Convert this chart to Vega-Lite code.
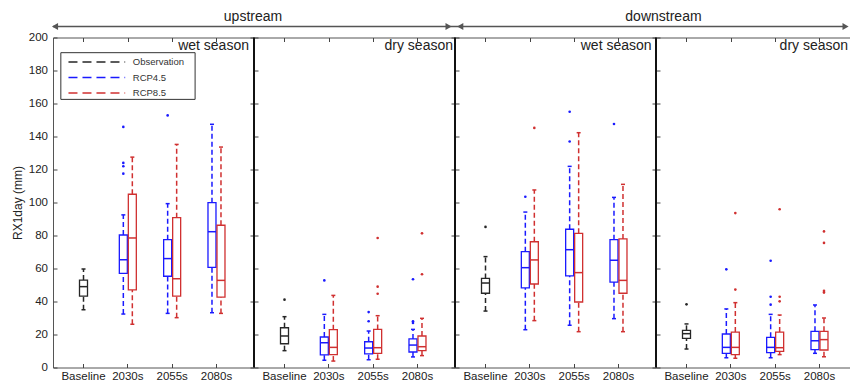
{
  "$schema": "https://vega.github.io/schema/vega-lite/v6.json",
  "padding": {"left": 10, "top": 8.5, "right": 0, "bottom": 0},
  "datasets": {
    "boxes": [
      {"region":"upstream","season":"wet season","period":"Baseline","scenario":"Observation","lo":35,"q1":43.3,"med":49,"q3":53,"hi":59.7},
      {"region":"upstream","season":"wet season","period":"2030s","scenario":"RCP4.5","lo":32.4,"q1":57,"med":65.3,"q3":80.3,"hi":92.5},
      {"region":"upstream","season":"wet season","period":"2030s","scenario":"RCP8.5","lo":26.2,"q1":47,"med":78.5,"q3":105,"hi":127.5},
      {"region":"upstream","season":"wet season","period":"2055s","scenario":"RCP4.5","lo":32.8,"q1":55.3,"med":66,"q3":77.5,"hi":99.3},
      {"region":"upstream","season":"wet season","period":"2055s","scenario":"RCP8.5","lo":30.2,"q1":43.3,"med":53.8,"q3":90.8,"hi":135.2},
      {"region":"upstream","season":"wet season","period":"2080s","scenario":"RCP4.5","lo":33.2,"q1":60.7,"med":82.3,"q3":99.9,"hi":147.4},
      {"region":"upstream","season":"wet season","period":"2080s","scenario":"RCP8.5","lo":32.8,"q1":42.7,"med":52.8,"q3":86.2,"hi":133.6},
      {"region":"upstream","season":"dry season","period":"Baseline","scenario":"Observation","lo":10.2,"q1":14.4,"med":19.1,"q3":24.1,"hi":30.8},
      {"region":"upstream","season":"dry season","period":"2030s","scenario":"RCP4.5","lo":4.4,"q1":7.6,"med":15,"q3":18.5,"hi":32.2},
      {"region":"upstream","season":"dry season","period":"2030s","scenario":"RCP8.5","lo":3.9,"q1":7.8,"med":12.2,"q3":22.9,"hi":43.7},
      {"region":"upstream","season":"dry season","period":"2055s","scenario":"RCP4.5","lo":4.7,"q1":8.2,"med":11.8,"q3":15.6,"hi":22.1},
      {"region":"upstream","season":"dry season","period":"2055s","scenario":"RCP8.5","lo":5,"q1":8.6,"med":12,"q3":23.1,"hi":31.4},
      {"region":"upstream","season":"dry season","period":"2080s","scenario":"RCP4.5","lo":6.4,"q1":9.4,"med":13.6,"q3":17.3,"hi":23.1},
      {"region":"upstream","season":"dry season","period":"2080s","scenario":"RCP8.5","lo":7.2,"q1":10.2,"med":12.6,"q3":19.1,"hi":29.8},
      {"region":"downstream","season":"wet season","period":"Baseline","scenario":"Observation","lo":34.2,"q1":45,"med":51.2,"q3":54,"hi":67.2},
      {"region":"downstream","season":"wet season","period":"2030s","scenario":"RCP4.5","lo":22.9,"q1":48.2,"med":60.5,"q3":70.2,"hi":94.2},
      {"region":"downstream","season":"wet season","period":"2030s","scenario":"RCP8.5","lo":28.4,"q1":50.6,"med":65.2,"q3":76.2,"hi":107.6},
      {"region":"downstream","season":"wet season","period":"2055s","scenario":"RCP4.5","lo":25.6,"q1":55.5,"med":71.4,"q3":83.8,"hi":121.9},
      {"region":"downstream","season":"wet season","period":"2055s","scenario":"RCP8.5","lo":21.7,"q1":39.7,"med":57.5,"q3":81.3,"hi":142.3},
      {"region":"downstream","season":"wet season","period":"2080s","scenario":"RCP4.5","lo":29.6,"q1":51.8,"med":65,"q3":77.5,"hi":103.1},
      {"region":"downstream","season":"wet season","period":"2080s","scenario":"RCP8.5","lo":21.7,"q1":45,"med":52.8,"q3":77.9,"hi":111},
      {"region":"downstream","season":"dry season","period":"Baseline","scenario":"Observation","lo":11.2,"q1":17.7,"med":20.5,"q3":22.5,"hi":26.4},
      {"region":"downstream","season":"dry season","period":"2030s","scenario":"RCP4.5","lo":5.9,"q1":8.6,"med":12.2,"q3":20.3,"hi":35.5},
      {"region":"downstream","season":"dry season","period":"2030s","scenario":"RCP8.5","lo":5.6,"q1":7.8,"med":12.2,"q3":21.5,"hi":39.3},
      {"region":"downstream","season":"dry season","period":"2055s","scenario":"RCP4.5","lo":5.9,"q1":9,"med":12.2,"q3":18.3,"hi":32.2},
      {"region":"downstream","season":"dry season","period":"2055s","scenario":"RCP8.5","lo":7.8,"q1":9.8,"med":12,"q3":21.5,"hi":31.8},
      {"region":"downstream","season":"dry season","period":"2080s","scenario":"RCP4.5","lo":8.6,"q1":10.8,"med":16.2,"q3":21.9,"hi":37.9},
      {"region":"downstream","season":"dry season","period":"2080s","scenario":"RCP8.5","lo":6.5,"q1":10.6,"med":16.9,"q3":21.9,"hi":30}
    ],
    "outliers": [
      {"region":"upstream","season":"wet season","period":"2030s","scenario":"RCP4.5","value":145.8},
      {"region":"upstream","season":"wet season","period":"2030s","scenario":"RCP4.5","value":124},
      {"region":"upstream","season":"wet season","period":"2030s","scenario":"RCP4.5","value":122},
      {"region":"upstream","season":"wet season","period":"2030s","scenario":"RCP4.5","value":117.5},
      {"region":"upstream","season":"wet season","period":"2055s","scenario":"RCP4.5","value":152.8},
      {"region":"upstream","season":"dry season","period":"Baseline","scenario":"Observation","value":41.1},
      {"region":"upstream","season":"dry season","period":"2030s","scenario":"RCP4.5","value":52.8},
      {"region":"upstream","season":"dry season","period":"2055s","scenario":"RCP4.5","value":33.6},
      {"region":"upstream","season":"dry season","period":"2055s","scenario":"RCP4.5","value":28},
      {"region":"upstream","season":"dry season","period":"2055s","scenario":"RCP8.5","value":78.5},
      {"region":"upstream","season":"dry season","period":"2055s","scenario":"RCP8.5","value":49},
      {"region":"upstream","season":"dry season","period":"2055s","scenario":"RCP8.5","value":44.7},
      {"region":"upstream","season":"dry season","period":"2080s","scenario":"RCP4.5","value":53.5},
      {"region":"upstream","season":"dry season","period":"2080s","scenario":"RCP4.5","value":28},
      {"region":"upstream","season":"dry season","period":"2080s","scenario":"RCP4.5","value":27},
      {"region":"upstream","season":"dry season","period":"2080s","scenario":"RCP8.5","value":81.3},
      {"region":"upstream","season":"dry season","period":"2080s","scenario":"RCP8.5","value":56.5},
      {"region":"downstream","season":"wet season","period":"Baseline","scenario":"Observation","value":85.2},
      {"region":"downstream","season":"wet season","period":"2030s","scenario":"RCP4.5","value":103.5},
      {"region":"downstream","season":"wet season","period":"2030s","scenario":"RCP8.5","value":145.2},
      {"region":"downstream","season":"wet season","period":"2055s","scenario":"RCP4.5","value":155},
      {"region":"downstream","season":"wet season","period":"2055s","scenario":"RCP4.5","value":137},
      {"region":"downstream","season":"wet season","period":"2080s","scenario":"RCP4.5","value":147.6},
      {"region":"downstream","season":"dry season","period":"Baseline","scenario":"Observation","value":38.3},
      {"region":"downstream","season":"dry season","period":"2030s","scenario":"RCP4.5","value":59.5},
      {"region":"downstream","season":"dry season","period":"2030s","scenario":"RCP8.5","value":93.6},
      {"region":"downstream","season":"dry season","period":"2030s","scenario":"RCP8.5","value":47.2},
      {"region":"downstream","season":"dry season","period":"2055s","scenario":"RCP4.5","value":64.7},
      {"region":"downstream","season":"dry season","period":"2055s","scenario":"RCP4.5","value":42.9},
      {"region":"downstream","season":"dry season","period":"2055s","scenario":"RCP4.5","value":38.1},
      {"region":"downstream","season":"dry season","period":"2055s","scenario":"RCP8.5","value":95.9},
      {"region":"downstream","season":"dry season","period":"2055s","scenario":"RCP8.5","value":42.9},
      {"region":"downstream","season":"dry season","period":"2055s","scenario":"RCP8.5","value":40.1},
      {"region":"downstream","season":"dry season","period":"2080s","scenario":"RCP8.5","value":82.5},
      {"region":"downstream","season":"dry season","period":"2080s","scenario":"RCP8.5","value":75.5},
      {"region":"downstream","season":"dry season","period":"2080s","scenario":"RCP8.5","value":46.4},
      {"region":"downstream","season":"dry season","period":"2080s","scenario":"RCP8.5","value":45.4}
    ],
    "legend": [
      {"series":"Observation"},
      {"series":"RCP4.5"},
      {"series":"RCP8.5"}
    ]
  },
  "hconcat": [
    {
      "width": 201, "height": 330,
      "layer": [
        {
          "data": {"name": "boxes"},
          "transform": [{"filter": "datum.region === 'upstream' && datum.season === 'wet season'"}],
          "encoding": {
            "x": {"field": "period", "type": "nominal", "scale": {"domain": ["Baseline","2030s","2055s","2080s"], "paddingInner": 0.6955, "paddingOuter": 0.615, "align": 0.4357}, "axis": {"title": null, "labelAngle": 0, "labelPadding": 7}},
            "xOffset": {"field": "scenario", "type": "nominal", "scale": {"domain": ["RCP4.5","Observation","RCP8.5"]}},
            "color": {"field": "scenario", "type": "nominal", "scale": {"domain": ["Observation","RCP4.5","RCP8.5"], "range": ["#262626","#1a1aff","#d03030"]}, "legend": null}
          },
          "layer": [
            {"mark": {"type": "rule", "strokeDash": [5,3], "strokeWidth": 1.5}, "encoding": {"y": {"field": "lo", "type": "quantitative", "scale": {"domain": [0,200]}, "axis": {"title": "RX1day (mm)", "values": [0,20,40,60,80,100,120,140,160,180,200], "labelPadding": 9.5, "titlePadding": 4}}, "y2": {"field": "q1"}}},
            {"mark": {"type": "rule", "strokeDash": [5,3], "strokeWidth": 1.5}, "encoding": {"y": {"field": "q3", "type": "quantitative", "scale": {"domain": [0,200]}, "axis": {"title": "RX1day (mm)", "values": [0,20,40,60,80,100,120,140,160,180,200], "labelPadding": 9.5, "titlePadding": 4}}, "y2": {"field": "hi"}}},
            {"mark": {"type": "tick", "size": 4, "thickness": 1.5, "opacity": 1}, "encoding": {"y": {"field": "lo", "type": "quantitative", "scale": {"domain": [0,200]}, "axis": {"title": "RX1day (mm)", "values": [0,20,40,60,80,100,120,140,160,180,200], "labelPadding": 9.5, "titlePadding": 4}}}},
            {"mark": {"type": "tick", "size": 4, "thickness": 1.5, "opacity": 1}, "encoding": {"y": {"field": "hi", "type": "quantitative", "scale": {"domain": [0,200]}, "axis": {"title": "RX1day (mm)", "values": [0,20,40,60,80,100,120,140,160,180,200], "labelPadding": 9.5, "titlePadding": 4}}}},
            {"mark": {"type": "bar", "filled": false, "width": 8, "strokeWidth": 1.3}, "encoding": {"y": {"field": "q1", "type": "quantitative", "scale": {"domain": [0,200]}, "axis": {"title": "RX1day (mm)", "values": [0,20,40,60,80,100,120,140,160,180,200], "labelPadding": 9.5, "titlePadding": 4}}, "y2": {"field": "q3"}}},
            {"mark": {"type": "tick", "size": 8, "thickness": 1.5, "opacity": 1}, "encoding": {"y": {"field": "med", "type": "quantitative", "scale": {"domain": [0,200]}, "axis": {"title": "RX1day (mm)", "values": [0,20,40,60,80,100,120,140,160,180,200], "labelPadding": 9.5, "titlePadding": 4}}}},
            {"data": {"name": "outliers"}, "transform": [{"filter": "datum.region === 'upstream' && datum.season === 'wet season'"}], "mark": {"type": "point", "filled": true, "size": 7, "opacity": 1}, "encoding": {"y": {"field": "value", "type": "quantitative", "scale": {"domain": [0,200]}, "axis": {"title": "RX1day (mm)", "values": [0,20,40,60,80,100,120,140,160,180,200], "labelPadding": 9.5, "titlePadding": 4}}}}
          ]
        },
        {
          "data": {"values": [{"region": "upstream", "season": "wet season"}]},
          "layer": [
            {"mark": {"type": "rule", "color": "#555", "strokeWidth": 1.5}, "encoding": {"x": {"datum": 0, "type": "quantitative", "scale": {"domain": [0,1]}, "axis": {"orient": "top", "title": null, "labels": false, "values": [0.1517,0.3723,0.5928,0.8133]}}, "x2": {"datum": 1}, "y": {"datum": 206.7, "type": "quantitative", "scale": {"domain": [0,200]}, "axis": {"orient": "right", "title": null, "labels": false, "values": [0,20,40,60,80,100,120,140,160,180,200]}}}},
            {"mark": {"type": "point", "shape": "triangle-left", "filled": true, "size": 50, "color": "#555", "opacity": 1}, "encoding": {"x": {"datum": 0.01, "type": "quantitative", "scale": {"domain": [0,1]}}, "y": {"datum": 206.7, "type": "quantitative", "scale": {"domain": [0,200]}}}},
            {"mark": {"type": "text", "fontSize": 14, "color": "#222"}, "encoding": {"x": {"datum": 0.995, "type": "quantitative", "scale": {"domain": [0,1]}}, "y": {"datum": 212.5, "type": "quantitative", "scale": {"domain": [0,200]}}, "text": {"field": "region"}}},
            {"mark": {"type": "text", "fontSize": 14, "color": "#222", "align": "right"}, "encoding": {"x": {"datum": 0.975, "type": "quantitative", "scale": {"domain": [0,1]}}, "y": {"datum": 194.8, "type": "quantitative", "scale": {"domain": [0,200]}}, "text": {"field": "season"}}},
            {"mark": {"type": "rect", "fill": "white", "stroke": "#333", "strokeWidth": 1}, "encoding": {"x": {"datum": 0.039, "type": "quantitative", "scale": {"domain": [0,1]}}, "x2": {"datum": 0.707}, "y": {"datum": 190.8, "type": "quantitative", "scale": {"domain": [0,200]}}, "y2": {"datum": 162.5}}}
          ]
        },
        {
          "data": {"name": "legend"},
          "encoding": {"y": {"field": "series", "type": "nominal", "scale": {"type": "point", "domain": ["Observation","RCP4.5","RCP8.5"], "range": [24.5,55.5], "padding": 0}, "axis": null}},
          "layer": [
            {"mark": {"type": "rule", "strokeDash": [9,5], "strokeWidth": 1.3}, "encoding": {"x": {"datum": 0.077, "type": "quantitative", "scale": {"domain": [0,1]}, "axis": null}, "x2": {"datum": 0.359}, "color": {"field": "series", "type": "nominal", "legend": null}}},
            {"mark": {"type": "text", "align": "left", "fontSize": 9.5, "color": "#333"}, "encoding": {"x": {"datum": 0.397, "type": "quantitative", "scale": {"domain": [0,1]}}, "text": {"field": "series"}}}
          ]
        }
      ],
      "resolve": {"scale": {"x": "independent", "y": "independent"}}
    },
    {
      "width": 201, "height": 330,
      "layer": [
        {
          "data": {"name": "boxes"},
          "transform": [{"filter": "datum.region === 'upstream' && datum.season === 'dry season'"}],
          "encoding": {
            "x": {"field": "period", "type": "nominal", "scale": {"domain": ["Baseline","2030s","2055s","2080s"], "paddingInner": 0.6955, "paddingOuter": 0.615, "align": 0.4357}, "axis": {"title": null, "labelAngle": 0, "labelPadding": 7}},
            "xOffset": {"field": "scenario", "type": "nominal", "scale": {"domain": ["RCP4.5","Observation","RCP8.5"]}},
            "color": {"field": "scenario", "type": "nominal", "scale": {"domain": ["Observation","RCP4.5","RCP8.5"], "range": ["#262626","#1a1aff","#d03030"]}, "legend": null}
          },
          "layer": [
            {"mark": {"type": "rule", "strokeDash": [5,3], "strokeWidth": 1.5}, "encoding": {"y": {"field": "lo", "type": "quantitative", "scale": {"domain": [0,200]}, "axis": {"title": null, "labels": false, "values": [0,20,40,60,80,100,120,140,160,180,200]}}, "y2": {"field": "q1"}}},
            {"mark": {"type": "rule", "strokeDash": [5,3], "strokeWidth": 1.5}, "encoding": {"y": {"field": "q3", "type": "quantitative", "scale": {"domain": [0,200]}, "axis": {"title": null, "labels": false, "values": [0,20,40,60,80,100,120,140,160,180,200]}}, "y2": {"field": "hi"}}},
            {"mark": {"type": "tick", "size": 4, "thickness": 1.5, "opacity": 1}, "encoding": {"y": {"field": "lo", "type": "quantitative", "scale": {"domain": [0,200]}, "axis": {"title": null, "labels": false, "values": [0,20,40,60,80,100,120,140,160,180,200]}}}},
            {"mark": {"type": "tick", "size": 4, "thickness": 1.5, "opacity": 1}, "encoding": {"y": {"field": "hi", "type": "quantitative", "scale": {"domain": [0,200]}, "axis": {"title": null, "labels": false, "values": [0,20,40,60,80,100,120,140,160,180,200]}}}},
            {"mark": {"type": "bar", "filled": false, "width": 8, "strokeWidth": 1.3}, "encoding": {"y": {"field": "q1", "type": "quantitative", "scale": {"domain": [0,200]}, "axis": {"title": null, "labels": false, "values": [0,20,40,60,80,100,120,140,160,180,200]}}, "y2": {"field": "q3"}}},
            {"mark": {"type": "tick", "size": 8, "thickness": 1.5, "opacity": 1}, "encoding": {"y": {"field": "med", "type": "quantitative", "scale": {"domain": [0,200]}, "axis": {"title": null, "labels": false, "values": [0,20,40,60,80,100,120,140,160,180,200]}}}},
            {"data": {"name": "outliers"}, "transform": [{"filter": "datum.region === 'upstream' && datum.season === 'dry season'"}], "mark": {"type": "point", "filled": true, "size": 7, "opacity": 1}, "encoding": {"y": {"field": "value", "type": "quantitative", "scale": {"domain": [0,200]}, "axis": {"title": null, "labels": false, "values": [0,20,40,60,80,100,120,140,160,180,200]}}}}
          ]
        },
        {
          "data": {"values": [{"region": "upstream", "season": "dry season"}]},
          "layer": [
            {"mark": {"type": "rule", "color": "#555", "strokeWidth": 1.5}, "encoding": {"x": {"datum": 0, "type": "quantitative", "scale": {"domain": [0,1]}, "axis": {"orient": "top", "title": null, "labels": false, "values": [0.1517,0.3723,0.5928,0.8133]}}, "x2": {"datum": 1}, "y": {"datum": 206.7, "type": "quantitative", "scale": {"domain": [0,200]}, "axis": {"orient": "right", "title": null, "labels": false, "values": [0,20,40,60,80,100,120,140,160,180,200]}}}},
            {"mark": {"type": "point", "shape": "triangle-right", "filled": true, "size": 50, "color": "#555", "opacity": 1}, "encoding": {"x": {"datum": 0.968, "type": "quantitative", "scale": {"domain": [0,1]}}, "y": {"datum": 206.7, "type": "quantitative", "scale": {"domain": [0,200]}}}},
            {"mark": {"type": "text", "fontSize": 14, "color": "#222", "align": "right"}, "encoding": {"x": {"datum": 0.99, "type": "quantitative", "scale": {"domain": [0,1]}}, "y": {"datum": 194.8, "type": "quantitative", "scale": {"domain": [0,200]}}, "text": {"field": "season"}}},
            {"mark": {"type": "rule", "color": "#111", "strokeWidth": 2}, "encoding": {"x": {"datum": 0, "type": "quantitative", "scale": {"domain": [0,1]}}, "y": {"datum": 0, "type": "quantitative", "scale": {"domain": [0,200]}}, "y2": {"datum": 200}}}
          ]
        }
      ],
      "resolve": {"scale": {"x": "independent", "y": "independent"}}
    },
    {
      "width": 201, "height": 330,
      "layer": [
        {
          "data": {"name": "boxes"},
          "transform": [{"filter": "datum.region === 'downstream' && datum.season === 'wet season'"}],
          "encoding": {
            "x": {"field": "period", "type": "nominal", "scale": {"domain": ["Baseline","2030s","2055s","2080s"], "paddingInner": 0.6955, "paddingOuter": 0.615, "align": 0.4357}, "axis": {"title": null, "labelAngle": 0, "labelPadding": 7}},
            "xOffset": {"field": "scenario", "type": "nominal", "scale": {"domain": ["RCP4.5","Observation","RCP8.5"]}},
            "color": {"field": "scenario", "type": "nominal", "scale": {"domain": ["Observation","RCP4.5","RCP8.5"], "range": ["#262626","#1a1aff","#d03030"]}, "legend": null}
          },
          "layer": [
            {"mark": {"type": "rule", "strokeDash": [5,3], "strokeWidth": 1.5}, "encoding": {"y": {"field": "lo", "type": "quantitative", "scale": {"domain": [0,200]}, "axis": {"title": null, "labels": false, "values": [0,20,40,60,80,100,120,140,160,180,200]}}, "y2": {"field": "q1"}}},
            {"mark": {"type": "rule", "strokeDash": [5,3], "strokeWidth": 1.5}, "encoding": {"y": {"field": "q3", "type": "quantitative", "scale": {"domain": [0,200]}, "axis": {"title": null, "labels": false, "values": [0,20,40,60,80,100,120,140,160,180,200]}}, "y2": {"field": "hi"}}},
            {"mark": {"type": "tick", "size": 4, "thickness": 1.5, "opacity": 1}, "encoding": {"y": {"field": "lo", "type": "quantitative", "scale": {"domain": [0,200]}, "axis": {"title": null, "labels": false, "values": [0,20,40,60,80,100,120,140,160,180,200]}}}},
            {"mark": {"type": "tick", "size": 4, "thickness": 1.5, "opacity": 1}, "encoding": {"y": {"field": "hi", "type": "quantitative", "scale": {"domain": [0,200]}, "axis": {"title": null, "labels": false, "values": [0,20,40,60,80,100,120,140,160,180,200]}}}},
            {"mark": {"type": "bar", "filled": false, "width": 8, "strokeWidth": 1.3}, "encoding": {"y": {"field": "q1", "type": "quantitative", "scale": {"domain": [0,200]}, "axis": {"title": null, "labels": false, "values": [0,20,40,60,80,100,120,140,160,180,200]}}, "y2": {"field": "q3"}}},
            {"mark": {"type": "tick", "size": 8, "thickness": 1.5, "opacity": 1}, "encoding": {"y": {"field": "med", "type": "quantitative", "scale": {"domain": [0,200]}, "axis": {"title": null, "labels": false, "values": [0,20,40,60,80,100,120,140,160,180,200]}}}},
            {"data": {"name": "outliers"}, "transform": [{"filter": "datum.region === 'downstream' && datum.season === 'wet season'"}], "mark": {"type": "point", "filled": true, "size": 7, "opacity": 1}, "encoding": {"y": {"field": "value", "type": "quantitative", "scale": {"domain": [0,200]}, "axis": {"title": null, "labels": false, "values": [0,20,40,60,80,100,120,140,160,180,200]}}}}
          ]
        },
        {
          "data": {"values": [{"region": "downstream", "season": "wet season"}]},
          "layer": [
            {"mark": {"type": "rule", "color": "#555", "strokeWidth": 1.5}, "encoding": {"x": {"datum": 0, "type": "quantitative", "scale": {"domain": [0,1]}, "axis": {"orient": "top", "title": null, "labels": false, "values": [0.1517,0.3723,0.5928,0.8133]}}, "x2": {"datum": 1}, "y": {"datum": 206.7, "type": "quantitative", "scale": {"domain": [0,200]}, "axis": {"orient": "right", "title": null, "labels": false, "values": [0,20,40,60,80,100,120,140,160,180,200]}}}},
            {"mark": {"type": "point", "shape": "triangle-left", "filled": true, "size": 50, "color": "#555", "opacity": 1}, "encoding": {"x": {"datum": 0.026, "type": "quantitative", "scale": {"domain": [0,1]}}, "y": {"datum": 206.7, "type": "quantitative", "scale": {"domain": [0,200]}}}},
            {"mark": {"type": "text", "fontSize": 14, "color": "#222", "align": "right"}, "encoding": {"x": {"datum": 0.978, "type": "quantitative", "scale": {"domain": [0,1]}}, "y": {"datum": 194.8, "type": "quantitative", "scale": {"domain": [0,200]}}, "text": {"field": "season"}}},
            {"mark": {"type": "rule", "color": "#111", "strokeWidth": 2}, "encoding": {"x": {"datum": 0, "type": "quantitative", "scale": {"domain": [0,1]}}, "y": {"datum": 0, "type": "quantitative", "scale": {"domain": [0,200]}}, "y2": {"datum": 200}}}
          ]
        }
      ],
      "resolve": {"scale": {"x": "independent", "y": "independent"}}
    },
    {
      "width": 196, "height": 330,
      "layer": [
        {
          "data": {"name": "boxes"},
          "transform": [{"filter": "datum.region === 'downstream' && datum.season === 'dry season'"}],
          "encoding": {
            "x": {"field": "period", "type": "nominal", "scale": {"domain": ["Baseline","2030s","2055s","2080s"], "paddingInner": 0.6955, "paddingOuter": 0.5586, "align": 0.4797}, "axis": {"title": null, "labelAngle": 0, "labelPadding": 7}},
            "xOffset": {"field": "scenario", "type": "nominal", "scale": {"domain": ["RCP4.5","Observation","RCP8.5"]}},
            "color": {"field": "scenario", "type": "nominal", "scale": {"domain": ["Observation","RCP4.5","RCP8.5"], "range": ["#262626","#1a1aff","#d03030"]}, "legend": null}
          },
          "layer": [
            {"mark": {"type": "rule", "strokeDash": [5,3], "strokeWidth": 1.5}, "encoding": {"y": {"field": "lo", "type": "quantitative", "scale": {"domain": [0,200]}, "axis": {"title": null, "labels": false, "values": [0,20,40,60,80,100,120,140,160,180,200]}}, "y2": {"field": "q1"}}},
            {"mark": {"type": "rule", "strokeDash": [5,3], "strokeWidth": 1.5}, "encoding": {"y": {"field": "q3", "type": "quantitative", "scale": {"domain": [0,200]}, "axis": {"title": null, "labels": false, "values": [0,20,40,60,80,100,120,140,160,180,200]}}, "y2": {"field": "hi"}}},
            {"mark": {"type": "tick", "size": 4, "thickness": 1.5, "opacity": 1}, "encoding": {"y": {"field": "lo", "type": "quantitative", "scale": {"domain": [0,200]}, "axis": {"title": null, "labels": false, "values": [0,20,40,60,80,100,120,140,160,180,200]}}}},
            {"mark": {"type": "tick", "size": 4, "thickness": 1.5, "opacity": 1}, "encoding": {"y": {"field": "hi", "type": "quantitative", "scale": {"domain": [0,200]}, "axis": {"title": null, "labels": false, "values": [0,20,40,60,80,100,120,140,160,180,200]}}}},
            {"mark": {"type": "bar", "filled": false, "width": 8, "strokeWidth": 1.3}, "encoding": {"y": {"field": "q1", "type": "quantitative", "scale": {"domain": [0,200]}, "axis": {"title": null, "labels": false, "values": [0,20,40,60,80,100,120,140,160,180,200]}}, "y2": {"field": "q3"}}},
            {"mark": {"type": "tick", "size": 8, "thickness": 1.5, "opacity": 1}, "encoding": {"y": {"field": "med", "type": "quantitative", "scale": {"domain": [0,200]}, "axis": {"title": null, "labels": false, "values": [0,20,40,60,80,100,120,140,160,180,200]}}}},
            {"data": {"name": "outliers"}, "transform": [{"filter": "datum.region === 'downstream' && datum.season === 'dry season'"}], "mark": {"type": "point", "filled": true, "size": 7, "opacity": 1}, "encoding": {"y": {"field": "value", "type": "quantitative", "scale": {"domain": [0,200]}, "axis": {"title": null, "labels": false, "values": [0,20,40,60,80,100,120,140,160,180,200]}}}}
          ]
        },
        {
          "data": {"values": [{"region": "downstream", "season": "dry season"}]},
          "layer": [
            {"mark": {"type": "rule", "color": "#555", "strokeWidth": 1.5}, "encoding": {"x": {"datum": 0, "type": "quantitative", "scale": {"domain": [0,1]}, "axis": {"orient": "top", "title": null, "labels": false, "values": [0.1556,0.3818,0.6079,0.8341]}}, "x2": {"datum": 0.97}, "y": {"datum": 206.7, "type": "quantitative", "scale": {"domain": [0,200]}, "axis": null}}},
            {"mark": {"type": "point", "shape": "triangle-right", "filled": true, "size": 50, "color": "#555", "opacity": 1}, "encoding": {"x": {"datum": 0.967, "type": "quantitative", "scale": {"domain": [0,1]}}, "y": {"datum": 206.7, "type": "quantitative", "scale": {"domain": [0,200]}}}},
            {"mark": {"type": "text", "fontSize": 14, "color": "#222"}, "encoding": {"x": {"datum": 0.038, "type": "quantitative", "scale": {"domain": [0,1]}}, "y": {"datum": 212.5, "type": "quantitative", "scale": {"domain": [0,200]}}, "text": {"field": "region"}}},
            {"mark": {"type": "text", "fontSize": 14, "color": "#222", "align": "right"}, "encoding": {"x": {"datum": 0.98, "type": "quantitative", "scale": {"domain": [0,1]}}, "y": {"datum": 194.8, "type": "quantitative", "scale": {"domain": [0,200]}}, "text": {"field": "season"}}},
            {"mark": {"type": "rule", "color": "#111", "strokeWidth": 2}, "encoding": {"x": {"datum": 0, "type": "quantitative", "scale": {"domain": [0,1]}}, "y": {"datum": 0, "type": "quantitative", "scale": {"domain": [0,200]}}, "y2": {"datum": 200}}}
          ]
        }
      ],
      "resolve": {"scale": {"x": "independent", "y": "independent"}}
    }
  ],
  "spacing": 0,
  "bounds": "flush",
  "config": {
    "font": "Liberation Sans",
    "view": {"stroke": "#555", "strokeWidth": 1},
    "axis": {"grid": false, "domain": false, "tickSize": -4, "tickColor": "#444", "tickWidth": 1, "labelFontSize": 11.5, "labelColor": "#222", "titleFontSize": 12, "titleFontWeight": "normal", "titleColor": "#222"}
  }
}
